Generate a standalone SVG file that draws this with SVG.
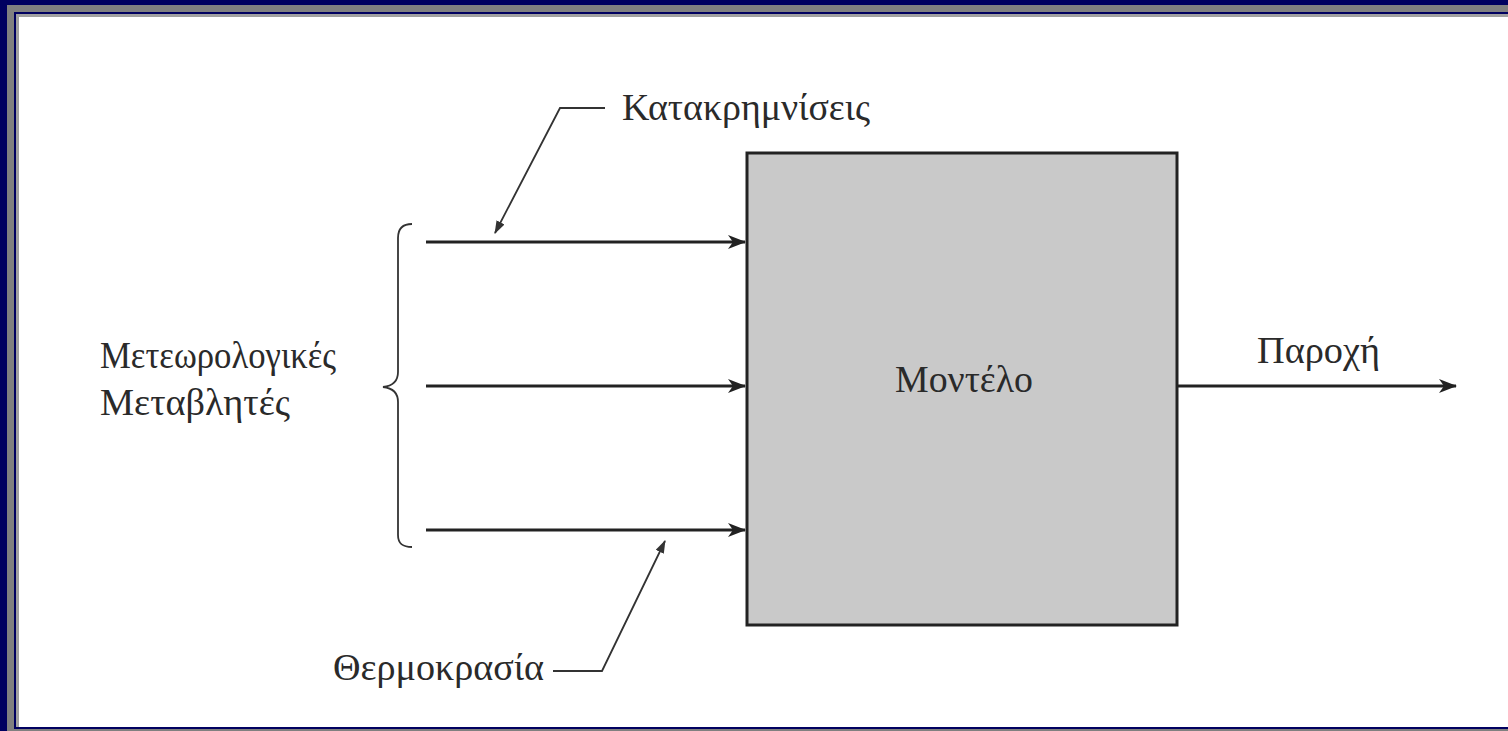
<svg xmlns="http://www.w3.org/2000/svg" width="1508" height="731" viewBox="0 0 1508 731">
<style>
.t{font-family:"Liberation Serif","DejaVu Serif",serif;font-size:37px;fill:#2a2a2a}
.ln{stroke:#222;stroke-width:3;fill:none}
.ld{stroke:#333;stroke-width:1.8;fill:none}
</style>
<defs>
<marker id="ah" viewBox="0 0 18 14" refX="17" refY="7" markerWidth="18" markerHeight="14" markerUnits="userSpaceOnUse" orient="auto">
<path d="M0,0 L18,7 L0,14 L5,7 Z" fill="#222"/>
</marker>
<marker id="sh" viewBox="0 0 13 9" refX="12" refY="4.5" markerWidth="13" markerHeight="9" markerUnits="userSpaceOnUse" orient="auto">
<path d="M0,0 L13,4.5 L0,9 Z" fill="#333"/>
</marker>
</defs>
<g id="frame">
<rect x="0" y="0" width="1508" height="731" fill="#000060"/>
<rect x="7" y="5" width="1501" height="726" fill="#808080"/>
<rect x="14" y="12" width="1494" height="717" fill="#000060"/>
<rect x="16" y="14" width="1492" height="713" fill="#a0a0a0"/>
<rect x="19" y="17" width="1489" height="710" fill="#ffffff"/>
</g>
<g id="model">
<rect x="747" y="153" width="430" height="472" fill="#c9c9c9" stroke="#222" stroke-width="3"/>
<text class="t" x="964" y="392" text-anchor="middle" textLength="138" lengthAdjust="spacingAndGlyphs">Μοντέλο</text>
</g>
<g id="inputs-label">
<text class="t" x="100" y="368" textLength="236" lengthAdjust="spacingAndGlyphs">Μετεωρολογικές</text>
<text class="t" x="100" y="415" textLength="190" lengthAdjust="spacingAndGlyphs">Μεταβλητές</text>
<path class="ld" stroke-width="2.2" d="M412,224 C403,224 398,228 398,238 L398,372 C398,382 392,386 383,387 C392,388 398,392 398,402 L398,535 C398,544 403,547 412,547"/>
</g>
<g id="precip-label">
<text class="t" x="622" y="120" textLength="248" lengthAdjust="spacingAndGlyphs">Κατακρημνίσεις</text>
</g>
<g id="temp-label">
<text class="t" x="333" y="680" textLength="211" lengthAdjust="spacingAndGlyphs">Θερμοκρασία</text>
</g>
<g id="output-label">
<text class="t" x="1257" y="363" textLength="123" lengthAdjust="spacingAndGlyphs">Παροχή</text>
</g>
<g id="connectors">
<line class="ln" x1="426" y1="242" x2="745" y2="242" marker-end="url(#ah)"/>
<line class="ln" x1="426" y1="386" x2="745" y2="386" marker-end="url(#ah)"/>
<line class="ln" x1="426" y1="530" x2="745" y2="530" marker-end="url(#ah)"/>
<line class="ln" x1="1177" y1="386" x2="1456" y2="386" marker-end="url(#ah)"/>
<polyline class="ld" points="605,108 560,108 495,233" marker-end="url(#sh)"/>
<polyline class="ld" points="553,671 602,671 665,541" marker-end="url(#sh)"/>
</g>
</svg>
